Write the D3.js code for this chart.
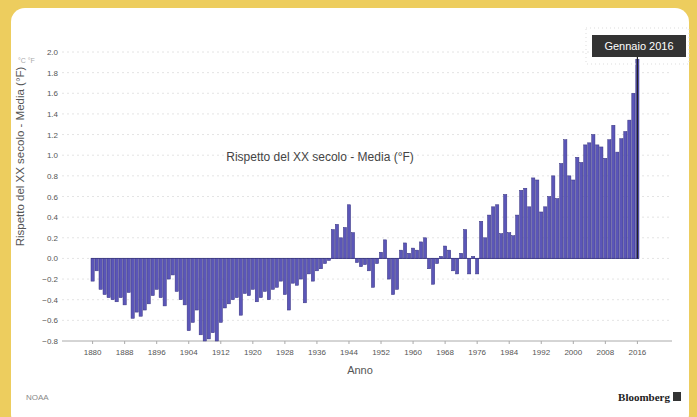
<!DOCTYPE html>
<html>
<head>
<meta charset="utf-8">
<script src="https://cdn.jsdelivr.net/npm/d3@7"></script>
<style>
  body { margin: 0; background: #edcd5e; }
  svg { display: block; }
</style>
</head>
<body>
<div id="chart"></div>
<script>
const width = 697, height = 417;
const margin = { top: 52, right: 25, bottom: 75, left: 62 };

// Anni (gennaio di ogni anno)
const years = d3.range(1880, 2017);
// Anomalia di gennaio rispetto alla media del XX secolo (°F)
const anomalies = [
  -0.22, -0.12, -0.30, -0.35, -0.38, -0.40, -0.42, -0.38, -0.45, -0.33,
  -0.58, -0.52, -0.56, -0.50, -0.44, -0.36, -0.30, -0.38, -0.46, -0.20,
  -0.16, -0.32, -0.40, -0.45, -0.70, -0.62, -0.50, -0.74, -0.80, -0.78,
  -0.72, -0.80, -0.62, -0.48, -0.44, -0.40, -0.38, -0.55, -0.34, -0.36,
  -0.30, -0.42, -0.38, -0.32, -0.40, -0.30, -0.28, -0.22, -0.35, -0.50,
  -0.24, -0.26, -0.20, -0.43, -0.15, -0.22, -0.12, -0.10, -0.05, -0.02,
   0.28,  0.33,  0.20,  0.30,  0.52,  0.25, -0.04, -0.08, -0.06, -0.12,
  -0.28, -0.05,  0.06,  0.18, -0.20, -0.35, -0.30,  0.08,  0.15,  0.05,
   0.10,  0.08,  0.16,  0.20, -0.10, -0.25, -0.05,  0.02,  0.12,  0.08,
  -0.12, -0.15,  0.05,  0.28, -0.15,  0.02, -0.15,  0.36,  0.20,  0.42,
   0.50,  0.52,  0.24,  0.62,  0.25,  0.22,  0.42,  0.66,  0.68,  0.50,
   0.78,  0.76,  0.45,  0.50,  0.60,  0.80,  0.58,  0.92,  1.15,  0.80,
   0.76,  0.98,  0.93,  1.10,  1.12,  1.20,  1.10,  1.08,  0.97,  1.15,
   1.29,  1.03,  1.16,  1.23,  1.34,  1.60,  1.93
];
const yTicks = [-0.8, -0.6, -0.4, -0.2, 0, 0.2, 0.4, 0.6, 0.8, 1.0, 1.2, 1.4, 1.6, 1.8, 2.0];
const xTickYears = d3.range(1880, 2017, 8);

const data = years.map((y, i) => ({ year: y, value: anomalies[i] }));

const svg = d3.select("#chart").append("svg")
    .attr("width", width)
    .attr("height", height);

// cartoncino bianco
svg.append("rect")
    .attr("x", 11).attr("y", 8)
    .attr("width", 678).attr("height", 420)
    .attr("rx", 14)
    .attr("fill", "#fff");

// Scale
const x = d3.scaleBand()
    .domain(years)
    .range([91, 639])
    .paddingInner(0.2);

const y = d3.scaleLinear()
    .domain([-0.8, 2.0])
    .range([341, 52]);

// griglia
svg.append("g").selectAll("line")
    .data(yTicks.filter(d => d !== -0.8)).enter().append("line")
    .attr("x1", margin.left).attr("x2", 672)
    .attr("y1", d => y(d)).attr("y2", d => y(d))
    .attr("stroke", "#e4e4e4")
    .attr("stroke-dasharray", "2,3");

// asse x
const xAxis = svg.append("g")
    .attr("transform", `translate(0, ${y(-0.8)})`)
    .call(d3.axisBottom(x).tickValues(xTickYears).tickSize(3).tickPadding(5));
xAxis.select(".domain").attr("d", `M${margin.left},0H672`).attr("stroke", "#aaa");
xAxis.selectAll(".tick line").attr("stroke", "#aaa");
xAxis.selectAll("text")
    .attr("fill", "#555")
    .style("font-family", "Liberation Sans, Arial, sans-serif")
    .style("font-size", "8px");

// asse y
const yAxis = svg.append("g")
    .attr("transform", `translate(${margin.left}, 0)`)
    .call(d3.axisLeft(y).tickValues(yTicks).tickFormat(d3.format(".1f")).tickSize(0).tickPadding(4));
yAxis.select(".domain").remove();
yAxis.selectAll("text")
    .attr("fill", "#555")
    .style("font-family", "Liberation Sans, Arial, sans-serif")
    .style("font-size", "8px");

// barre
svg.append("g").selectAll(".bar")
    .data(data).enter().append("rect")
    .attr("class", "bar")
    .attr("x", d => x(d.year))
    .attr("width", x.bandwidth())
    .attr("y", d => y(Math.max(0, d.value)))
    .attr("height", d => Math.abs(y(d.value) - y(0)))
    .attr("fill", "#5b56b8")
    .attr("stroke", "#36327f")
    .attr("stroke-width", 0.5);

// linea dello zero
svg.append("line")
    .attr("x1", 91).attr("x2", 639)
    .attr("y1", y(0)).attr("y2", y(0))
    .attr("stroke", "#36327f").attr("stroke-width", 0.8);

// titolo asse y
svg.append("text")
    .attr("transform", `translate(24, ${(y(2.0) + y(-0.8)) / 2 - 40}) rotate(-90)`)
    .attr("text-anchor", "middle")
    .attr("fill", "#555")
    .style("font-family", "Liberation Sans, Arial, sans-serif")
    .style("font-size", "11.5px")
    .text("Rispetto del XX secolo - Media (°F)");

// titolo serie
svg.append("text")
    .attr("x", 320).attr("y", 161)
    .attr("text-anchor", "middle")
    .attr("fill", "#444")
    .style("font-family", "Liberation Sans, Arial, sans-serif")
    .style("font-size", "12px")
    .text("Rispetto del XX secolo - Media (°F)");

// titolo asse x
svg.append("text")
    .attr("x", 360).attr("y", 374)
    .attr("text-anchor", "middle")
    .attr("fill", "#555")
    .style("font-family", "Liberation Sans, Arial, sans-serif")
    .style("font-size", "11px")
    .text("Anno");

// unità in alto a sinistra
svg.append("text")
    .attr("x", 18).attr("y", 63)
    .attr("fill", "#aaa")
    .style("font-family", "Liberation Sans, Arial, sans-serif")
    .style("font-size", "7px")
    .text("°C  °F");

// tooltip sull'ultima barra
const last = data[data.length - 1];
const tipX = x(last.year) + x.bandwidth() / 2;
svg.append("line")
    .attr("x1", tipX).attr("x2", tipX)
    .attr("y1", 57).attr("y2", y(0))
    .attr("stroke", "#222").attr("stroke-width", 1.2);
svg.append("rect")
    .attr("x", 586).attr("y", 28)
    .attr("width", 103).attr("height", 36)
    .attr("fill", "none")
    .attr("stroke", "#ddd")
    .attr("stroke-dasharray", "1,3");
svg.append("rect")
    .attr("x", 592).attr("y", 35)
    .attr("width", 94).attr("height", 22)
    .attr("fill", "#333");
svg.append("text")
    .attr("x", 639).attr("y", 50)
    .attr("text-anchor", "middle")
    .attr("fill", "#fff")
    .style("font-family", "Liberation Sans, Arial, sans-serif")
    .style("font-size", "11px")
    .text(`Gennaio ${last.year}`);

// fonte e marchio
svg.append("text")
    .attr("x", 26).attr("y", 400)
    .attr("fill", "#888")
    .style("font-family", "Liberation Sans, Arial, sans-serif")
    .style("font-size", "8px")
    .text("NOAA");
svg.append("text")
    .attr("x", 670).attr("y", 401)
    .attr("text-anchor", "end")
    .attr("fill", "#222")
    .style("font-family", "Liberation Serif, serif")
    .style("font-weight", "bold")
    .style("font-size", "11px")
    .text("Bloomberg");
svg.append("rect")
    .attr("x", 673).attr("y", 392)
    .attr("width", 8).attr("height", 9)
    .attr("fill", "#333");
</script>
</body>
</html>
